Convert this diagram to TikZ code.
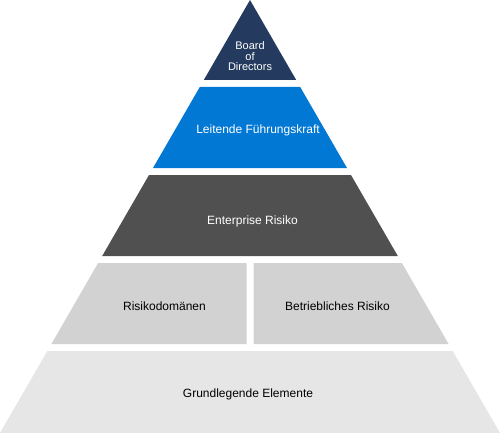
\documentclass[tikz,border=0pt]{standalone}
\usepackage{fontspec}
\setmainfont{Liberation Sans}
\definecolor{boardnavy}{HTML}{243A5E}
\definecolor{leadblue}{HTML}{0078D4}
\definecolor{riskgray}{HTML}{505050}
\definecolor{domgray}{HTML}{D2D2D2}
\definecolor{basegray}{HTML}{E6E6E6}

\begin{document}
\begin{tikzpicture}[x=1pt,y=-1pt,every node/.style={inner sep=0pt,font=\fontsize{12}{14}\selectfont},label node/.style={anchor=base},light/.style={text=white}]
        \useasboundingbox (0,0) rectangle (500,433);
        % pyramid bands, top to bottom
        \fill [boardnavy] (250,0) -- (296.2,80) -- (203.8,80) -- cycle;
        \fill [leadblue] (199.8,87) -- (300.2,87) -- (347,168) -- (153,168) -- cycle;
        \fill [riskgray] (149,175) -- (351,175) -- (397.8,256) -- (102.2,256) -- cycle;
        \fill [domgray] (98.1,263) -- (246.5,263) -- (246.5,344) -- (51.4,344) -- cycle;
        \fill [domgray] (253.5,263) -- (401.9,263) -- (448.6,344) -- (253.5,344) -- cycle;
        \fill [basegray] (47.3,351) -- (452.7,351) -- (500,433) -- (0,433) -- cycle;
        % labels
        \node [light, align=center, font=\fontsize{11}{10.5}\selectfont] (1) at (250,56.5) {Board\\of\\Directors};
        \node [light, label node] (2) at (258,133) {Leitende Führungskraft};
        \node [light, label node] (3) at (252.5,224) {Enterprise Risiko};
        \node [label node] (4) at (164.5,310.7) {Risikodomänen};
        \node [label node] (5) at (337.5,310.7) {Betriebliches Risiko};
        \node [label node] (6) at (248,397.7) {Grundlegende Elemente};
    \end{tikzpicture}
\end{document}
